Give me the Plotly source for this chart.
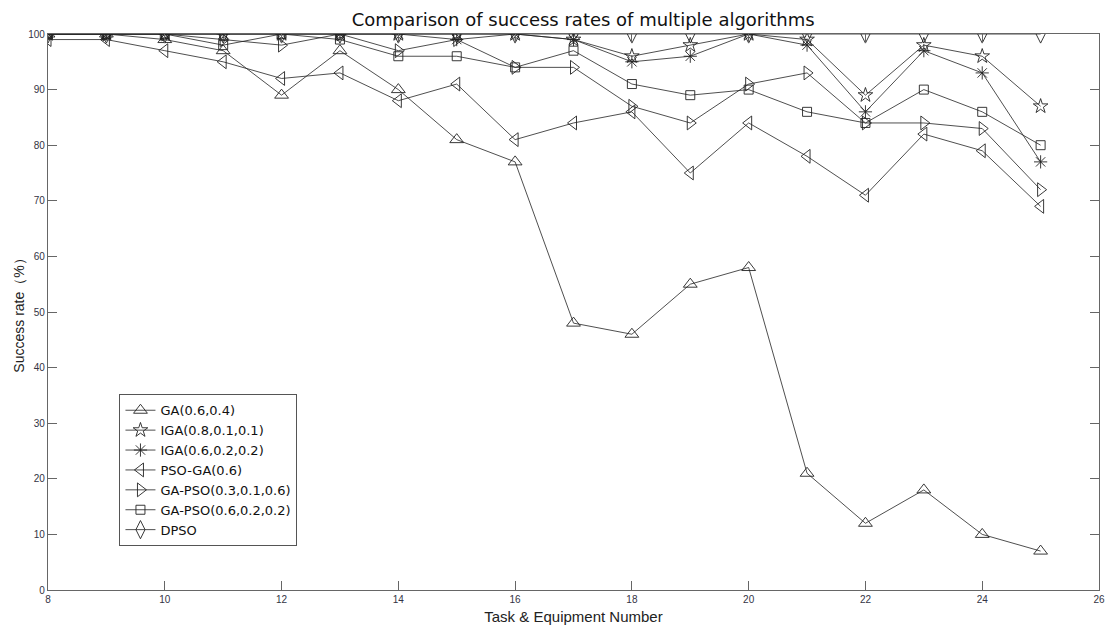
import plotly.graph_objects as go

x_vals = list(range(8, 26))

ga = [100, 100, 99, 97, 89, 97, 90, 81, 77, 48, 46, 55, 58, 21, 12, 18, 10, 7]
iga_081 = [100, 100, 100, 100, 100, 100, 100, 100, 100, 99, 96, 98, 100, 99, 89, 98, 96, 87]
iga_062 = [100, 100, 100, 100, 100, 100, 100, 99, 100, 99, 95, 96, 100, 98, 86, 97, 93, 77]
pso_ga = [99, 99, 97, 95, 92, 93, 88, 91, 81, 84, 86, 75, 84, 78, 71, 82, 79, 69]
ga_pso_03 = [100, 100, 100, 99, 98, 100, 97, 99, 94, 94, 87, 84, 91, 93, 84, 84, 83, 72]
ga_pso_06 = [100, 100, 100, 98, 100, 99, 96, 96, 94, 97, 91, 89, 90, 86, 84, 90, 86, 80]
dpso = [100] * 18

series_names = ["GA(0.6,0.4)", "IGA(0.8,0.1,0.1)", "IGA(0.6,0.2,0.2)", "PSO-GA(0.6)",
                "GA-PSO(0.3,0.1,0.6)", "GA-PSO(0.6,0.2,0.2)", "DPSO"]
series_data = [ga, iga_081, iga_062, pso_ga, ga_pso_03, ga_pso_06, dpso]
symbols = ["triangle-up-open", "star-open", "asterisk-open", "triangle-left-open",
           "triangle-right-open", "square-open", "diamond-tall-open"]
sizes = [12, 11, 11, 12, 12, 9, 13]

fig = go.Figure()
for name, data, sym, sz in zip(series_names, series_data, symbols, sizes):
    fig.add_trace(go.Scatter(
        x=x_vals, y=data, name=name, mode="lines+markers",
        line=dict(color="#222222", width=0.8),
        marker=dict(symbol=sym, size=sz, color="#222222",
                    line=dict(color="#222222", width=0.9)),
    ))

axis_common = dict(
    showline=True, linecolor="#666666", linewidth=1.2, mirror="ticks",
    ticks="inside", ticklen=9, tickcolor="#666666", tickwidth=1,
    showgrid=False, zeroline=False,
    tickfont=dict(family="Liberation Sans, Arial, sans-serif", size=10, color="#333344"),
)

fig.update_layout(
    width=1113, height=631, autosize=False,
    paper_bgcolor="white", plot_bgcolor="white",
    margin=dict(l=48, r=8, t=34, b=29),
    title=dict(text="Comparison of success rates of multiple algorithms",
               x=0.524, xanchor="center", y=0.968, yanchor="middle",
               font=dict(family="DejaVu Sans, sans-serif", size=18, color="#111111")),
    xaxis=dict(range=[8, 26], tickvals=list(range(8, 27, 2)),
               title=dict(text="Task & Equipment Number", standoff=7,
                          font=dict(family="Liberation Sans, Arial, sans-serif", size=15, color="#222222")),
               **axis_common),
    yaxis=dict(range=[0, 100], tickvals=list(range(0, 101, 10)),
               title=dict(text="Success rate（%）", standoff=0,
                          font=dict(family="Liberation Sans, Arial, sans-serif", size=14, color="#222222")),
               **axis_common),
    legend=dict(x=0.068, y=0.352, xanchor="left", yanchor="top",
                bordercolor="#555555", borderwidth=1, bgcolor="white",
                font=dict(family="DejaVu Sans, sans-serif", size=13, color="#111111"),
                tracegroupgap=0, itemwidth=30),
    showlegend=True,
)

fig.write_html("out.html",
               config={"displayModeBar": False, "responsive": False},
               default_width="1113px", default_height="631px",
               post_script="document.body.style.margin='0';document.body.style.overflow='hidden';")
